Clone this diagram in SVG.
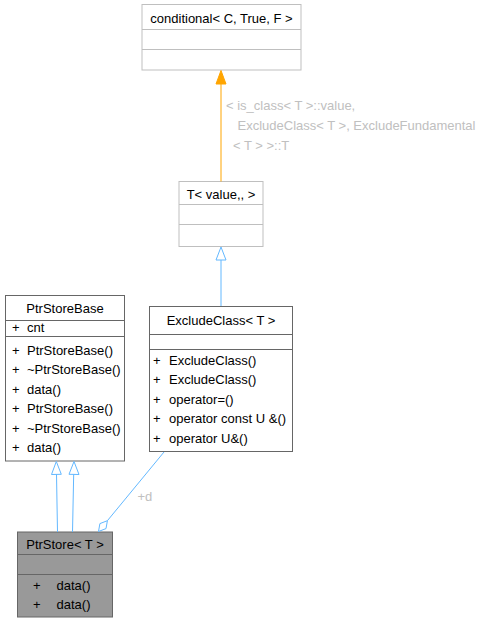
<svg xmlns="http://www.w3.org/2000/svg" width="488" height="623" viewBox="0 0 488 623">
<defs>
<style>
text{font-family:"Liberation Sans",Arial,sans-serif;font-size:13px;fill:#000}
.t{text-anchor:middle}
.box{fill:#fff;stroke:#666666;stroke-width:1}
.lbox{fill:#fff;stroke:#bfbfbf;stroke-width:1}
.div{stroke:#666666;stroke-width:1}
.ldiv{stroke:#bfbfbf;stroke-width:1}
.inh{fill:none;stroke:#63b8ff;stroke-width:1}
.inhh{fill:#fff;stroke:#63b8ff;stroke-width:1}
.tpl{fill:none;stroke:#ffa500;stroke-width:1}
.tplh{fill:#ffa500;stroke:#ffa500;stroke-width:1}
.lbl{fill:#c0c0c0}
</style>
</defs>
<rect width="488" height="623" fill="#fff"/>

<g id="conditional">
<rect class="lbox" x="142" y="4.5" width="159" height="65.5"/>
<line class="ldiv" x1="142" y1="29.5" x2="301" y2="29.5"/>
<line class="ldiv" x1="142" y1="49.5" x2="301" y2="49.5"/>
<text class="t" x="221.5" y="23">conditional&lt; C, True, F &gt;</text>
</g>

<g id="Tvalue">
<rect class="lbox" x="179" y="181.5" width="84" height="65"/>
<line class="ldiv" x1="179" y1="204.5" x2="263" y2="204.5"/>
<line class="ldiv" x1="179" y1="224.5" x2="263" y2="224.5"/>
<text class="t" x="221" y="199">T&lt; value,, &gt;</text>
</g>

<g id="ExcludeClass">
<rect class="box" x="149.5" y="306.5" width="143" height="145"/>
<line class="div" x1="149.5" y1="334.5" x2="292.5" y2="334.5"/>
<line class="div" x1="149.5" y1="349.5" x2="292.5" y2="349.5"/>
<text class="t" x="221" y="324.5">ExcludeClass&lt; T &gt;</text>
<text x="153" y="364.5">+<tspan x="169">ExcludeClass()</tspan></text>
<text x="153" y="384">+<tspan x="169">ExcludeClass()</tspan></text>
<text x="153" y="403.5">+<tspan x="169">operator=()</tspan></text>
<text x="153" y="423">+<tspan x="169">operator const U &amp;()</tspan></text>
<text x="153" y="442.5">+<tspan x="169">operator U&amp;()</tspan></text>
</g>

<g id="PtrStoreBase">
<rect class="box" x="5.5" y="295.5" width="119" height="165.5"/>
<line class="div" x1="5.5" y1="320.5" x2="124.5" y2="320.5"/>
<line class="div" x1="5.5" y1="336.5" x2="124.5" y2="336.5"/>
<text class="t" x="65" y="313">PtrStoreBase</text>
<text x="12" y="332">+<tspan x="27">cnt</tspan></text>
<text x="12" y="354.5">+<tspan x="27">PtrStoreBase()</tspan></text>
<text x="12" y="374">+<tspan x="27">~PtrStoreBase()</tspan></text>
<text x="12" y="393.5">+<tspan x="27">data()</tspan></text>
<text x="12" y="413">+<tspan x="27">PtrStoreBase()</tspan></text>
<text x="12" y="432.5">+<tspan x="27">~PtrStoreBase()</tspan></text>
<text x="12" y="452">+<tspan x="27">data()</tspan></text>
</g>

<g id="PtrStore">
<rect x="17.5" y="532" width="95" height="85" fill="#999999" stroke="#666666" stroke-width="1"/>
<line class="div" x1="17.5" y1="554.5" x2="112.5" y2="554.5"/>
<line class="div" x1="17.5" y1="574.5" x2="112.5" y2="574.5"/>
<text class="t" x="65" y="549">PtrStore&lt; T &gt;</text>
<text x="33" y="589.5">+<tspan x="56.5">data()</tspan></text>
<text x="33" y="609">+<tspan x="56.5">data()</tspan></text>
</g>

<g id="edges">
<path class="tpl" d="M221,181.5 L221,84"/>
<polygon class="tplh" points="221,70.5 216,84 226,84"/>
<text class="lbl" x="226" y="110">&lt; is_class&lt; T &gt;::value,</text>
<text class="lbl" x="237.5" y="130">ExcludeClass&lt; T &gt;, ExcludeFundamental</text>
<text class="lbl" x="233" y="150">&lt; T &gt; &gt;::T</text>

<path class="inh" d="M221,306 L221,260"/>
<polygon class="inhh" points="221,247 216,260 226,260"/>

<path class="inh" d="M57.5,532 L56.5,474"/>
<polygon class="inhh" points="56.3,461.5 51.5,474.5 61.3,474.3"/>
<path class="inh" d="M72.5,532 L73.7,474"/>
<polygon class="inhh" points="74,461.5 69,474.3 79,474.5"/>

<path class="inh" d="M164,452 L107.4,520.7"/>
<polygon class="inhh" points="98.5,531.5 106,528.6 107.4,520.7 99.9,523.6"/>
<text class="lbl" x="137.5" y="501">+d</text>
</g>
</svg>
